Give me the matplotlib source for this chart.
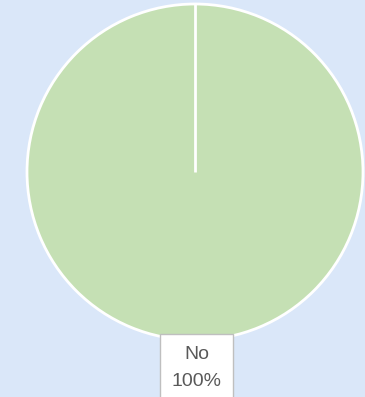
import matplotlib
matplotlib.use('Agg')
import numpy as np
import matplotlib.pyplot as plt

# 응답 데이터
labels = ['No']
values = [100]
colors = ['#c5e0b4']

fig = plt.figure(figsize=(3.65, 3.97), dpi=100)
fig.patch.set_facecolor('#dae7f9')

ax = fig.add_axes([27 / 365, 57 / 397, 336 / 365, 336 / 397])
ax.set_facecolor('none')

wedges, _ = ax.pie(values, colors=colors, startangle=90, counterclock=False, radius=1,
                   wedgeprops={'edgecolor': 'white', 'linewidth': 2})

# 조각 경계선 (원형 하나일 때도 시작선 표시)
for w in wedges:
    t = np.deg2rad(w.theta2)
    ax.plot([0, w.r * np.cos(t)], [0, w.r * np.sin(t)], color='white', lw=2,
            solid_capstyle='butt')

ax.set_xlim(-1, 1)
ax.set_ylim(-1, 1)
ax.set_aspect('equal')
ax.axis('off')

# 데이터 레이블
total = sum(values)
for lab, v in zip(labels, values):
    ax.text(0.01, -1.165, f'{lab}\n{v / total:.0%}', ha='center', va='center',
            fontsize=14, color='#595959', linespacing=1.75, clip_on=False,
            family=['Liberation Sans', 'DejaVu Sans'],
            bbox={'boxstyle': 'square,pad=0.6', 'facecolor': 'white',
                  'edgecolor': '#bfbfbf', 'linewidth': 1})

fig.savefig('out.png', dpi=100, facecolor=fig.get_facecolor())
